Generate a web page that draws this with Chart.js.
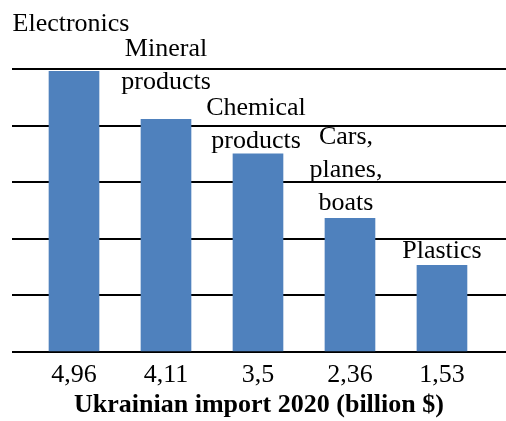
<!DOCTYPE html>
<html>
<head>
<meta charset="utf-8">
<script src="https://cdn.jsdelivr.net/npm/chart.js@4/dist/chart.umd.min.js"></script>
<style>
  body { margin: 0; background: #fff; }
  canvas { display: block; }
</style>
</head>
<body>
<canvas id="myChart" width="506" height="421"></canvas>
<script>
// data
var categories = [['Electronics'], ['Mineral', 'products'], ['Chemical', 'products'], ['Cars,', 'planes,', 'boats'], ['Plastics']];
var values = [4.96, 4.11, 3.5, 2.36, 1.53];
var tickLabels = ['4,96', '4,11', '3,5', '2,36', '1,53'];
var yTicks = [0, 1, 2, 3, 4, 5];

var serif = '"Liberation Serif", "Times New Roman", Tinos, serif';

// names above bars (gap above bar top, horizontal nudge)
var barNames = {
  id: 'barNames',
  afterDatasetsDraw: function(chart, args, opts) {
    var ctx = chart.ctx;
    var meta = chart.getDatasetMeta(0);
    ctx.save();
    ctx.font = '26px ' + serif;
    ctx.fillStyle = '#000';
    ctx.textAlign = 'center';
    ctx.textBaseline = 'alphabetic';
    meta.data.forEach(function(bar, i) {
      var lines = categories[i];
      var last = bar.y - opts.gap[i];
      lines.forEach(function(t, j) {
        ctx.fillText(t, bar.x + opts.dx[i], last - (lines.length - 1 - j) * opts.lineHeight);
      });
    });
    ctx.restore();
  }
};

function draw() {
  new Chart(document.getElementById('myChart').getContext('2d'), {
    type: 'bar',
    data: {
      datasets: [{
        label: 'import',
        backgroundColor: '#4F81BD',
        borderWidth: 0,
        barThickness: 50,
        data: values.map(function(v, i) { return { x: i, y: v }; })
      }]
    },
    plugins: [barNames],
    options: {
      responsive: false,
      animation: false,
      layout: { padding: { top: 69, right: 0, left: 0, bottom: 0 } },
      plugins: {
        legend: { display: false },
        tooltip: { enabled: false },
        barNames: { gap: [40, 30, 6, 8, 7], dx: [-3, 0, -2, -4, 0], lineHeight: 33 }
      },
      scales: {
        x: {
          type: 'linear',
          offset: false,
          min: -0.674,
          max: 4.696,
          grid: { display: false, drawTicks: false, offset: false },
          border: { display: false },
          afterBuildTicks: function(axis) {
            axis.ticks = tickLabels.map(function(_, i) { return { value: i }; });
          },
          afterFit: function(axis) { axis.height = 69; },
          ticks: {
            padding: 8,
            color: '#000',
            font: { family: serif, size: 26 },
            maxRotation: 0,
            autoSkip: false,
            callback: function(v) { return tickLabels[v]; }
          },
          title: {
            display: true,
            text: 'Ukrainian import 2020 (billion $)',
            color: '#000',
            font: { family: serif, size: 26, weight: 'bold' },
            padding: { top: 0, bottom: 0 }
          }
        },
        y: {
          min: 0,
          max: 5,
          afterBuildTicks: function(axis) {
            axis.ticks = yTicks.map(function(v) { return { value: v }; });
          },
          afterFit: function(axis) { axis.width = 12; },
          grid: { color: '#000', lineWidth: 2, drawTicks: false },
          border: { display: false },
          ticks: { display: false }
        }
      }
    }
  });
}

Promise.all([
  document.fonts.load('26px "Liberation Serif"'),
  document.fonts.load('bold 26px "Liberation Serif"')
]).then(draw, draw);
</script>
</body>
</html>
